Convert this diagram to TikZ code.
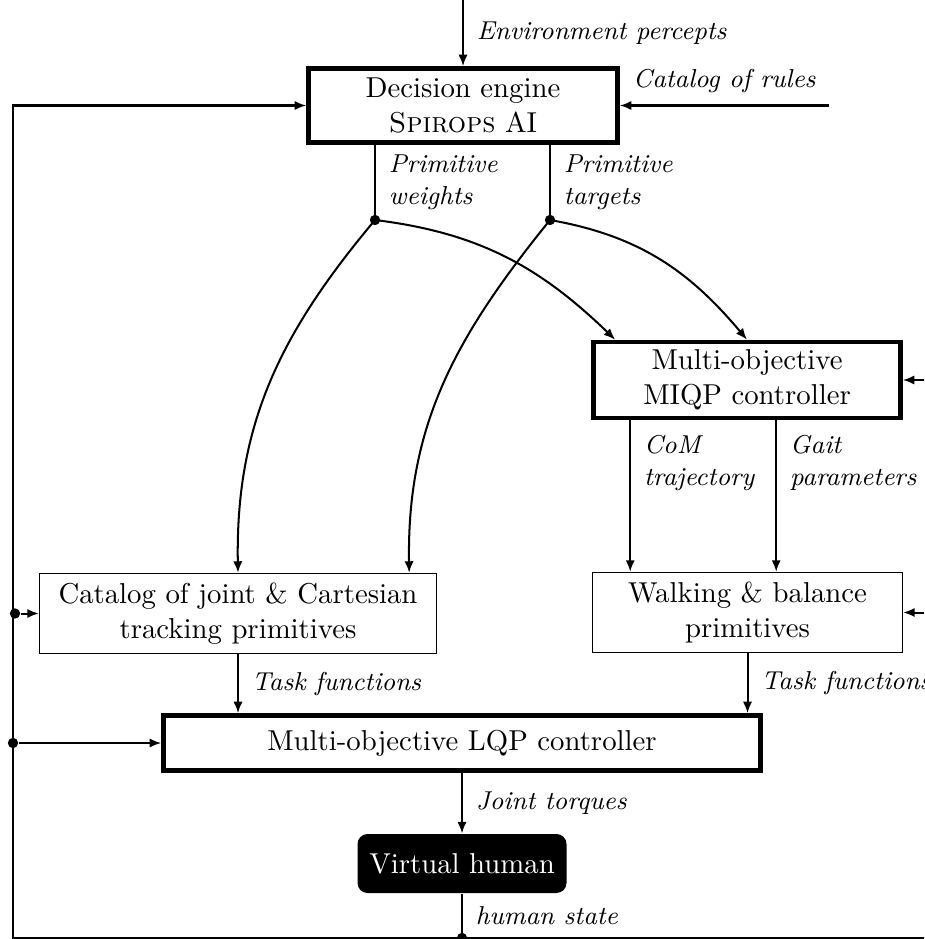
\documentclass[tikz,border=0pt]{standalone}
\usetikzlibrary{arrows.meta,calc}
\def\PX{0.3477pt}
\begin{document}
\begin{tikzpicture}[x=0.3477pt,y=-0.3477pt,
  conn/.style={line width=0.7pt},
  arr/.style={conn,-{Latex[length=4pt,width=3.2pt]}},
  bigbox/.style={draw,line width=1.6pt,align=center,inner sep=0pt},
  smallbox/.style={draw,line width=0.5pt,align=center,inner sep=0pt},
  lbl/.style={font=\small\itshape,align=left,inner sep=0pt},
  dot/.style={circle,fill,inner sep=0pt,minimum size=3.6pt},
]
\useasboundingbox (0,0) rectangle (924,939);
\clip (0,0) rectangle (924,939);

% nodes
\node[bigbox,minimum width=309*\PX,minimum height=74*\PX] (dec) at (463,105.5) {Decision engine\\\textsc{Spirops} AI};
\node[bigbox,minimum width=307*\PX,minimum height=76*\PX] (miqp) at (747,380) {Multi-objective\\MIQP controller};
\node[smallbox,minimum width=397*\PX,minimum height=80*\PX] (cat) at (238,613.5) {Catalog of joint \& Cartesian\\tracking primitives};
\node[smallbox,minimum width=310*\PX,minimum height=80*\PX] (walk) at (747.5,612.5) {Walking \& balance\\primitives};
\node[bigbox,minimum width=597*\PX,minimum height=55*\PX] (lqp) at (462,743) {Multi-objective LQP controller};
\node[fill=black,text=white,rounded corners=3.5pt,minimum width=209*\PX,minimum height=59*\PX,inner sep=0pt] (vh) at (462,863.5) {Virtual human};

% coordinates
\coordinate (envtop) at (463,0);
\coordinate (rules) at (829,105.5);
\coordinate (W) at (375,220);
\coordinate (T) at (550,220);
\coordinate (TL) at (13,105.5);
\coordinate (BL) at (13,938);
\coordinate (HS) at (462,938);
\coordinate (BR) at (1010,938);

% top inputs
\draw[arr] (envtop) -- node[lbl,midway,right=4.5pt]{Environment percepts} (dec.north);
\draw[arr] (rules) -- node[lbl,midway,above=4pt]{Catalog of rules} (dec.east);

% primitive weights / targets
\draw[conn] (dec.south -| W) -- node[lbl,midway,right=4.5pt]{Primitive\\weights} (W);
\draw[conn] (dec.south -| T) -- node[lbl,midway,right=4.5pt]{Primitive\\targets} (T);
\node[dot] (Wd) at (W) {};
\node[dot] (Td) at (T) {};

\draw[arr] (W) to[out=-130,in=91] (cat.north);
\draw[arr] (W) to[out=-7,in=136] ($(miqp.north west)+(24,0)$);
\draw[arr] (T) to[out=-129,in=91] ($(cat.north east)+(-28,0)$);
\draw[arr] (T) to[out=-10,in=130] (miqp.north);

% MIQP -> walking
\coordinate (c1) at ($(miqp.south west)+(39,0)$);
\coordinate (c2) at ($(miqp.south west)+(185,0)$);
\draw[arr] (c1) -- node[lbl,pos=0.28,right=4.5pt]{CoM\\trajectory} (c1 |- walk.north);
\draw[arr] (c2) -- node[lbl,pos=0.28,right=4.5pt]{Gait\\parameters} (c2 |- walk.north);

% to LQP
\draw[arr] (cat.south) -- node[lbl,midway,right=4.5pt]{Task functions} (cat.south |- lqp.north);
\draw[arr] (walk.south) -- node[lbl,midway,right=4.5pt]{Task functions} (walk.south |- lqp.north);
\draw[arr] (lqp.south) -- node[lbl,midway,right=4.5pt]{Joint torques} (vh.north);
\draw[conn] (vh.south) -- node[lbl,midway,right=4.5pt]{human state} (HS);
\node[dot] (hsd) at (HS) {};

% left feedback
\draw[arr] (HS) -- (BL) -- (TL) -- (dec.west);
\node[dot] (d1) at (BL |- lqp.west) {};
\draw[arr] (d1) -- (lqp.west);
\node[dot] (d2) at ($(BL |- cat.west)+(2,0)$) {};
\draw[arr] (d2) -- (cat.west);

% right feedback
\draw[arr] (HS) -- (BR) |- (miqp.east);
\node[dot] (d3) at (BR |- walk.east) {};
\draw[arr] (d3) -- (walk.east);
\end{tikzpicture}
\end{document}
